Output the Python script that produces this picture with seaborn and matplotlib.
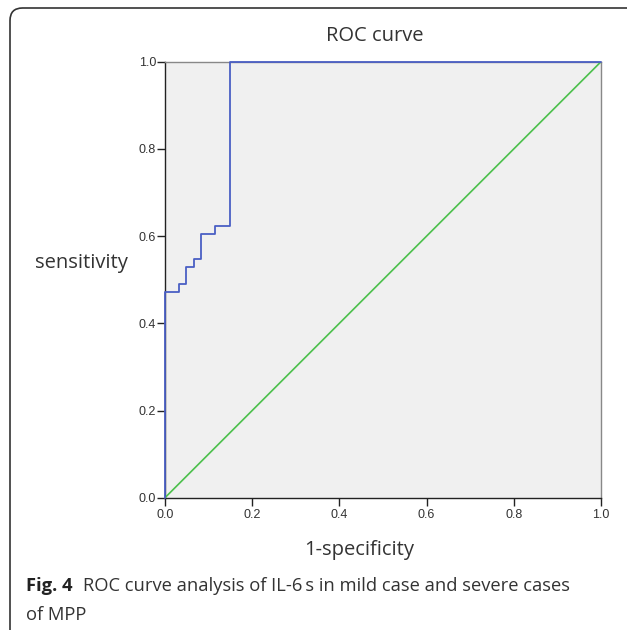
import matplotlib
matplotlib.use('Agg')
import matplotlib.pyplot as plt
import seaborn as sns
from matplotlib.patches import FancyBboxPatch

# ROC vertices (steps-post)
fpr = [0.0, 0.0, 0.033, 0.049, 0.066, 0.082, 0.115, 0.148, 1.0]
tpr = [0.0, 0.472, 0.491, 0.528, 0.547, 0.604, 0.623, 1.0, 1.0]
ref_x = [0.0, 1.0]
ref_y = [0.0, 1.0]
tick_vals = [0.0, 0.2, 0.4, 0.6, 0.8, 1.0]
tick_labels = ['0.0', '0.2', '0.4', '0.6', '0.8', '1.0']

sns.set_style('white')
fig = plt.figure(figsize=(6.27, 6.30), dpi=100)

W, H = 627, 630

# rounded frame around the figure (cut off at right/bottom)
frame = FancyBboxPatch((10 / W, 1 - 645 / H), 650 / W, 637 / H,
                       boxstyle='round,pad=0,rounding_size=0.02',
                       transform=fig.transFigure, fill=False,
                       edgecolor='#333333', linewidth=1.2)
fig.patches.append(frame)

ax = fig.add_axes([165 / W, 1 - 497.7 / H, 436 / W, 436 / H])
ax.set_facecolor('#f0f0f0')

sns.lineplot(x=ref_x, y=ref_y, ax=ax, color='#4cc04c', linewidth=1.2,
             estimator=None, zorder=3)
sns.lineplot(x=fpr, y=tpr, ax=ax, color='#4a5fc4', linewidth=1.3, sort=False,
             estimator=None, drawstyle='steps-post', zorder=4, clip_on=False)

ax.set_xlim(0, 1)
ax.set_ylim(0, 1)
ax.set_xticks(tick_vals)
ax.set_xticklabels(tick_labels)
ax.set_yticks(tick_vals)
ax.set_yticklabels(tick_labels)

for s in ['left', 'bottom']:
    ax.spines[s].set_color('#222222')
    ax.spines[s].set_linewidth(1.0)
for s in ['top', 'right']:
    ax.spines[s].set_color('#888888')
    ax.spines[s].set_linewidth(1.0)

ax.tick_params(direction='out', length=6, width=1, color='#222222',
               labelsize=9, labelcolor='#333333', bottom=True, left=True)
ax.tick_params(axis='x', pad=2)
ax.tick_params(axis='y', pad=0.5)
for lab in ax.get_xticklabels() + ax.get_yticklabels():
    lab.set_family('Liberation Sans')

ax.set_xlabel('')
ax.set_ylabel('')

lab_font = dict(fontsize=14.5, family='Open Sans', color='#333333')
fig.text(375 / W, 1 - 41 / H, 'ROC curve', ha='center', va='baseline', **lab_font)
fig.text(81 / W, 1 - 268 / H, 'sensitivity', ha='center', va='baseline', **lab_font)
fig.text(359 / W, 1 - 555 / H, '1-specificity', ha='center', va='baseline', **lab_font)

cap_font = dict(fontsize=13.2, family='Open Sans')
fig.text(26 / W, 1 - 591 / H, 'Fig. 4', ha='left', va='baseline',
         fontweight='bold', color='#222222', **cap_font)
fig.text(83 / W, 1 - 591 / H,
         'ROC curve analysis of IL-6\u2009s in mild case and severe cases',
         ha='left', va='baseline', color='#333333', **cap_font)
fig.text(26 / W, 1 - 620 / H, 'of MPP', ha='left', va='baseline',
         color='#333333', **cap_font)

fig.savefig('out.png', dpi=100, facecolor='white')
